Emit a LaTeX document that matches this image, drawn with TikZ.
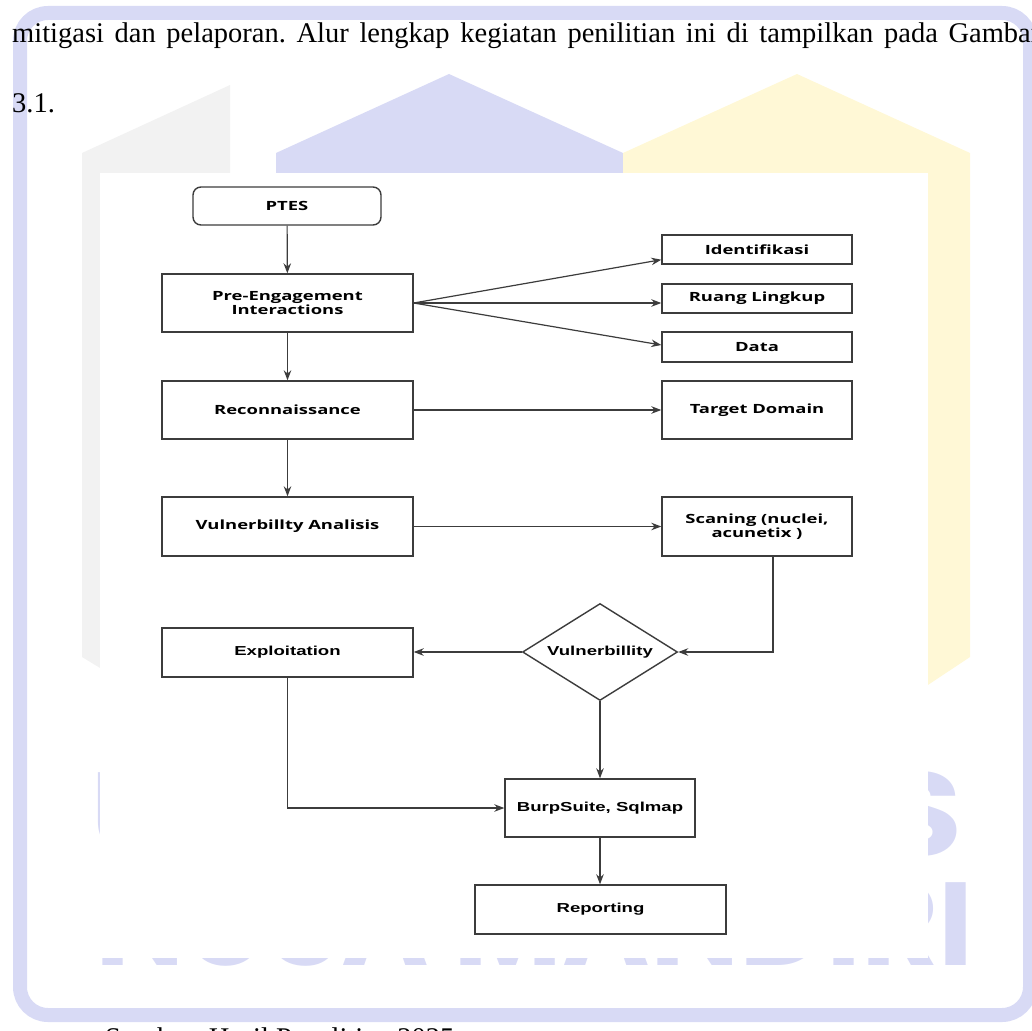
\documentclass[tikz,border=0pt]{standalone}
\usepackage{graphicx}
\usepackage{fontspec}
\setmainfont{Liberation Serif}
\newfontfamily\boxfont{Open Sans}[FakeStretch=1.45]
\newfontfamily\stepfont{Liberation Sans}[FakeStretch=1.43]
\newfontfamily\logofont{Poppins}
\usetikzlibrary{shapes.geometric,arrows.meta}
\definecolor{logoblue}{RGB}{216,218,245}
\definecolor{logoyellow}{RGB}{255,248,214}
\definecolor{logogrey}{RGB}{242,242,242}
\definecolor{edgegrey}{RGB}{60,60,60}

\begin{document}
\frenchspacing
\begin{tikzpicture}[x=1pt,y=-1pt,>={Stealth[length=10pt,width=7.5pt]},
    box/.style={draw=edgegrey, line width=1.4pt, shape=rectangle, minimum width=251pt, minimum height=58pt, inner sep=0pt, align=center, font=\boxfont\bfseries\fontsize{12.7}{14.5}\selectfont},
    smallbox/.style={box, minimum width=190pt, minimum height=29pt},
    stepbox/.style={box, minimum height=49pt, font=\stepfont\bfseries\fontsize{13}{15}\selectfont},
    decision/.style={draw=edgegrey, line width=1.4pt, shape=diamond, aspect=1.6, minimum width=155pt, minimum height=97pt, inner sep=0pt, font=\stepfont\bfseries\fontsize{13}{15}\selectfont},
    pagetext/.style={anchor=base west, inner sep=0pt, font=\fontsize{28.5}{34}\selectfont},
    link/.style={->, draw=edgegrey, line width=1.2pt}]
    \useasboundingbox (0,0) rectangle (1032,1030);
    \clip (0,0) rectangle (1032,1030);

    % watermark behind the figure
    \draw[logoblue, line width=14pt, rounded corners=28pt] (20,13) rectangle (1030,1015);
    \fill[logogrey] (82,153) -- (230,85) -- (230,747) -- (82,657) -- cycle;
    \fill[logoblue] (276,153) -- (449,74) -- (623,153) -- (623,700) -- (276,700) -- cycle;
    \fill[logoyellow] (623,153) -- (797,74) -- (970,153) -- (970,657) -- (623,888) -- cycle;
    \node (wmtop) [anchor=south west, inner sep=0pt, text=logoblue] at (90,857) {\resizebox{872pt}{84pt}{\logofont\bfseries UNIVERSITAS}};
    \node (wmbottom) [anchor=south west, inner sep=0pt, text=logoblue] at (95,967) {\resizebox{878pt}{84pt}{\logofont\bfseries NUSA MANDIRI}};
    \fill[white] (100,173) rectangle (928,958);

    % page text
    \node (line1) [pagetext] at (12,42.7) {\makebox[1028pt][s]{mitigasi dan pelaporan. Alur lengkap kegiatan penilitian ini di tampilkan pada Gambar}};
    \node (line2) [pagetext] at (12,113) {3.1.};
    \node (source) [pagetext] at (105,1047) {Sumber: Hasil Penelitian 2025};

    % main flow
    \node (ptes) [box, rounded corners=8pt, minimum width=188pt, minimum height=38pt] at (287,206) {PTES};
    \node (pre) [box] at (287.5,303) {Pre-Engagement\\Interactions};
    \node (recon) [box] at (287.5,410) {Reconnaissance};
    \node (vulnan) [box, minimum height=59pt] at (287.5,526.5) {Vulnerbillty Analisis};

    % right column
    \node (ident) [smallbox] at (757,249.5) {Identifikasi};
    \node (ruang) [smallbox] at (757,298.5) {Ruang Lingkup};
    \node (data) [smallbox, minimum height=30pt] at (757,347) {Data};
    \node (target) [box, minimum width=190pt] at (757,410) {Target Domain};
    \node (scan) [box, minimum width=190pt, minimum height=59pt] at (757,526.5) {Scaning (nuclei,\\acunetix )};

    % lower part
    \node (vuln) [decision] at (600,652) {Vulnerbillity};
    \node (expl) [stepbox] at (287.5,652.5) {Exploitation};
    \node (burp) [stepbox, minimum width=190pt, minimum height=58pt] at (600,808) {BurpSuite, Sqlmap};
    \node (report) [stepbox] at (600.5,909.5) {Reporting};

    \draw [link] (ptes) -- (pre);
    \draw [link] (pre.east) -- ([yshift=5pt]ident.south west);
    \draw [link] (pre.east) -- (pre.east -| ruang.west);
    \draw [link] (pre.east) -- ([yshift=2pt]data.west);
    \draw [link] (pre) -- (recon);
    \draw [link] (recon) -- (target);
    \draw [link] (recon) -- (vulnan);
    \draw [link] (vulnan) -- (scan);
    \draw [link] ([xshift=16pt]scan.south) |- (vuln.east);
    \draw [link] (vuln.west) -- (vuln.west -| expl.east);
    \draw [link] (vuln.south) -- (burp.north);
    \draw [link] (expl.south) |- (burp.west);
    \draw [link] (burp.south) -- (burp.south |- report.north);
\end{tikzpicture}
\end{document}
